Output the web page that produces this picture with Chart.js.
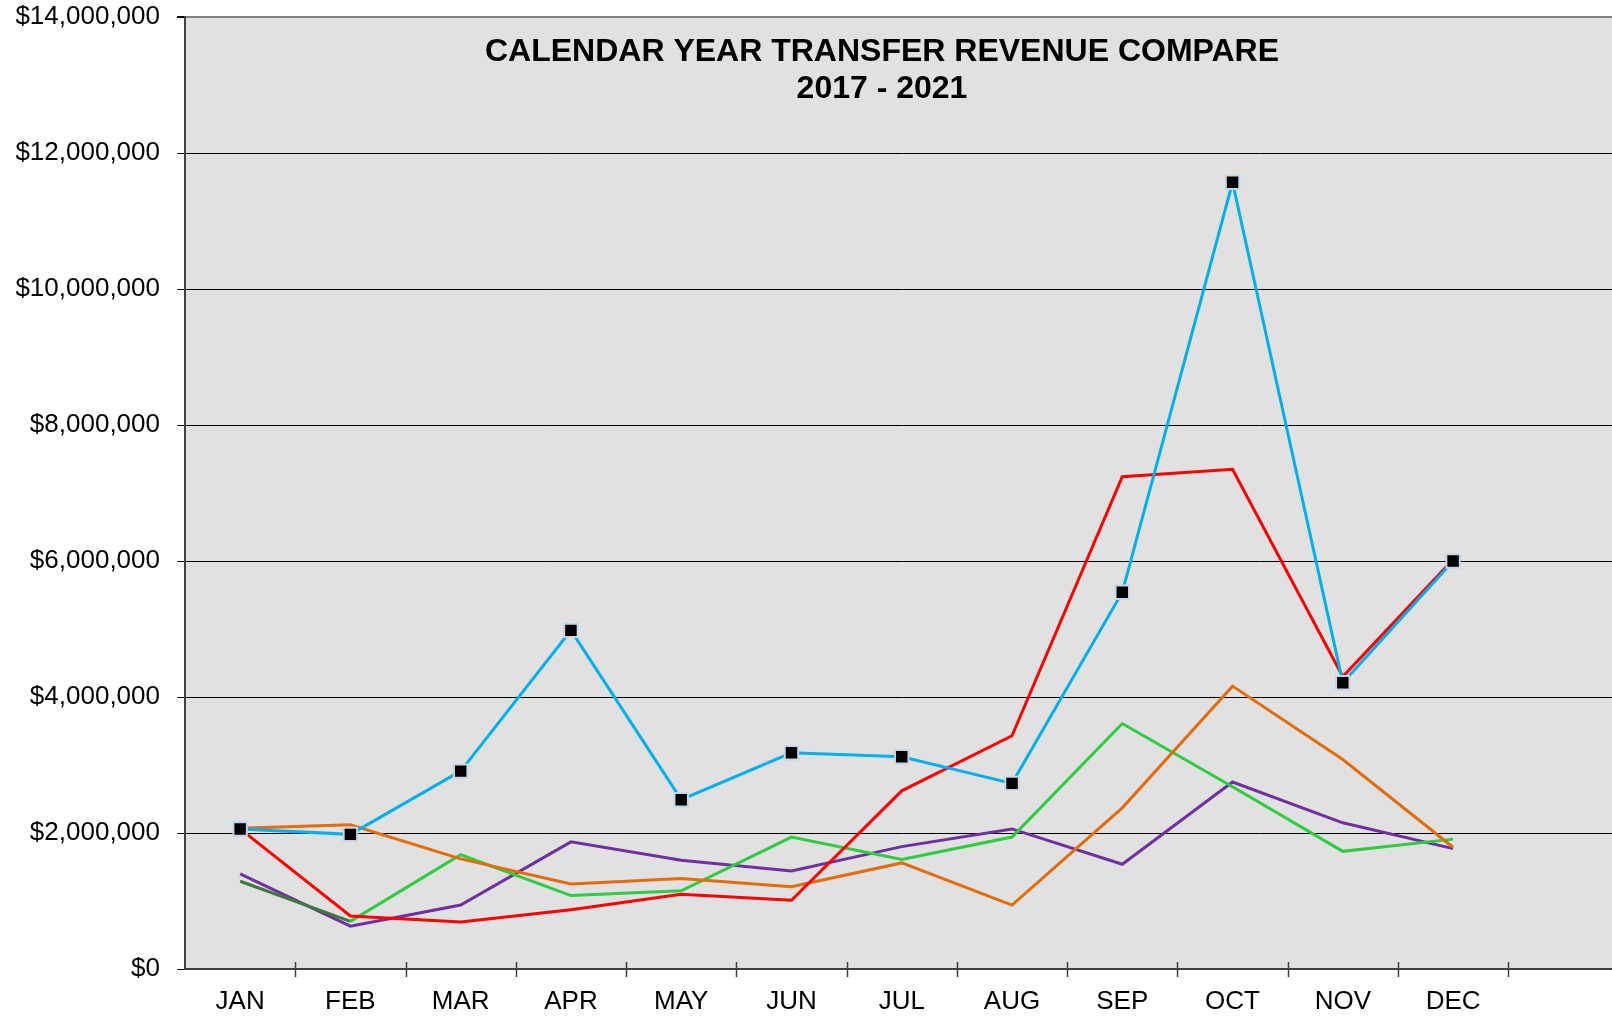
<!DOCTYPE html>
<html>
<head>
<meta charset="utf-8">
<script src="https://cdn.jsdelivr.net/npm/chart.js@4/dist/chart.umd.min.js"></script>
<style>
  html, body { margin: 0; padding: 0; overflow: hidden; background: #fff; }
  #wrap { position: relative; width: 1630px; height: 1018px; }
</style>
</head>
<body>
<div id="wrap"><canvas id="revenue-chart"></canvas></div>
<script>
// Month labels (the axis has one trailing empty slot)
const months = ['JAN', 'FEB', 'MAR', 'APR', 'MAY', 'JUN', 'JUL', 'AUG', 'SEP', 'OCT', 'NOV', 'DEC', '']

// Monthly transfer revenue
const rev2021 = [2060000, 1980000, 2910000, 4980000, 2490000, 3180000, 3120000, 2730000, 5540000, 11570000, 4210000, 6000000]
const rev2020 = [2060000, 780000, 690000, 870000, 1100000, 1010000, 2620000, 3430000, 7240000, 7350000, 4300000, 6020000]
const rev2019 = [2070000, 2120000, 1620000, 1250000, 1330000, 1210000, 1560000, 940000, 2370000, 4160000, 3080000, 1790000]
const rev2018 = [1290000, 700000, 1680000, 1080000, 1150000, 1940000, 1610000, 1940000, 3610000, 2680000, 1730000, 1910000]
const rev2017 = [1400000, 630000, 940000, 1870000, 1600000, 1440000, 1800000, 2060000, 1540000, 2750000, 2150000, 1770000]

const yTicks = [0, 2000000, 4000000, 6000000, 8000000, 10000000, 12000000, 14000000]
const titleLines = ['CALENDAR YEAR TRANSFER REVENUE COMPARE', '2017 - 2021']

const FONT = "'Liberation Sans', Arial, sans-serif"

// Grey plot background + title inside plot area
const plotBackground = {
  id: 'plotBackground',
  beforeDraw(chart) {
    const { ctx, chartArea: a } = chart
    ctx.save()
    ctx.fillStyle = '#e1e1e1'
    ctx.fillRect(a.left, a.top, a.right - a.left, a.bottom - a.top)
    ctx.restore()
  },
  beforeDatasetsDraw(chart) {
    const { ctx } = chart
    ctx.save()
    ctx.fillStyle = '#000'
    ctx.font = 'bold 32px ' + FONT
    ctx.textAlign = 'center'
    ctx.textBaseline = 'middle'
    ctx.fillText(titleLines[0], 882, 52)
    ctx.fillText(titleLines[1], 882, 89)
    ctx.restore()
  }
}

// Category boundary ticks crossing the x axis
const crossTicks = {
  id: 'crossTicks',
  afterDraw(chart) {
    const { ctx, chartArea: a } = chart
    const step = (a.right - a.left) / months.length
    ctx.save()
    ctx.strokeStyle = '#404040'
    ctx.lineWidth = 1.5
    for (let i = 1; i < months.length; i++) {
      const x = Math.round(a.left + i * step) + 0.5
      ctx.beginPath()
      ctx.moveTo(x, a.bottom - 7)
      ctx.lineTo(x, a.bottom + 8)
      ctx.stroke()
    }
    ctx.restore()
  }
}

function line(label, data, color, extra) {
  return Object.assign({
    label: label,
    data: data,
    borderColor: color,
    backgroundColor: color,
    borderWidth: 3,
    pointRadius: 0,
    fill: false,
    tension: 0
  }, extra || {})
}

const datasets = [
  line('2021', rev2021, '#00b0f0', {
    pointRadius: 9.5,
    pointStyle: 'rect',
    pointBackgroundColor: '#000',
    pointBorderColor: '#c6d6e6',
    pointBorderWidth: 2,
    order: 0
  }),
  line('2020', rev2020, '#ff0000', { order: 1 }),
  line('2019', rev2019, '#e46c0a', { order: 2 }),
  line('2018', rev2018, '#2ecc40', {
    order: 3,
    segment: {
      borderColor: ctx => ctx.p0DataIndex === 0 ? '#3e7a3e' : '#2ecc40'
    }
  }),
  line('2017', rev2017, '#7030a0', { order: 4 })
]

new Chart(document.getElementById('revenue-chart'), {
  type: 'line',
  data: { labels: months, datasets: datasets },
  options: {
    responsive: true,
    maintainAspectRatio: false,
    animation: false,
    layout: { padding: { top: 17, left: 0, right: 0, bottom: 0 } },
    plugins: {
      legend: { display: false },
      tooltip: { enabled: false },
      title: { display: false }
    },
    scales: {
      x: {
        type: 'category',
        offset: true,
        grid: { display: false, drawTicks: false },
        border: { display: true, color: '#404040', width: 2 },
        ticks: {
          color: '#000',
          font: { family: FONT, size: 26 },
          padding: 17,
          maxRotation: 0,
          autoSkip: false
        },
        afterFit(scale) {
          scale.height = 49
          scale.paddingLeft = 0
          scale.paddingRight = 0
        }
      },
      y: {
        min: 0,
        max: 14000000,
        afterBuildTicks(scale) { scale.ticks = yTicks.map(v => ({ value: v })) },
        grid: {
          color: ctx => ctx.tick && ctx.tick.value === 14000000 ? '#808080' : '#000',
          lineWidth: ctx => ctx.tick && ctx.tick.value === 14000000 ? 2 : 1,
          tickColor: '#000',
          tickLength: 8
        },
        border: { display: true, color: '#404040', width: 2 },
        ticks: {
          color: '#000',
          font: { family: FONT, size: 26 },
          padding: 17,
          callback: v => '$' + Number(v).toLocaleString('en-US')
        },
        afterFit(scale) {
          scale.width = 185
          scale.paddingTop = 0
          scale.paddingBottom = 0
        }
      }
    }
  },
  plugins: [plotBackground, crossTicks]
})
</script>
</body>
</html>
